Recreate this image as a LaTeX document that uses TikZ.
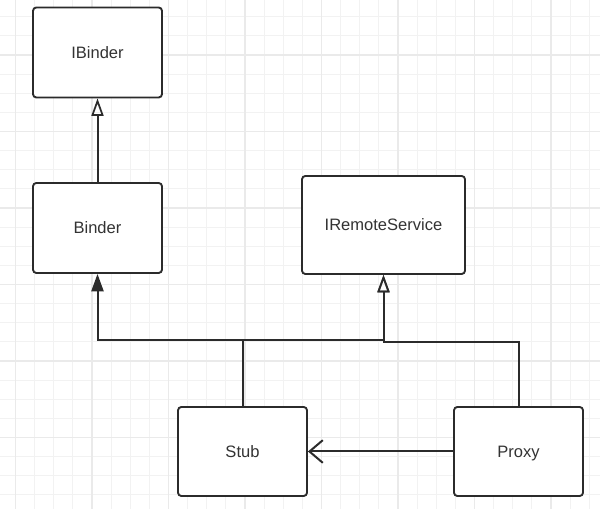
\documentclass[tikz,border=0pt]{standalone}
\usepackage{fontspec}
\setmainfont{Liberation Sans}
\usetikzlibrary{arrows.meta}
\definecolor{minorgrid}{HTML}{F2F2F2}
\definecolor{majorgrid}{HTML}{EAEAEA}
\definecolor{ink}{HTML}{2B2B2B}
\definecolor{txt}{HTML}{333333}
\tikzset{
  box/.style={draw=ink, line width=1.4pt, rounded corners=2.5pt, fill=white,
    minimum width=96.75pt, minimum height=67.5pt, inner sep=0pt,
    text height=8.9pt, text depth=0pt,
    font=\fontsize{12.4pt}{14pt}\selectfont, text=txt},
  conn/.style={draw=ink, line width=1.5pt},
  openhead/.style={-{Triangle[open, length=13pt, width=9pt, line width=1.3pt]}},
  filledhead/.style={-{Triangle[length=13pt, width=9pt]}},
  barbhead/.style={-{Straight Barb[length=10pt, width=17pt, line width=1.5pt]}}
}
\begin{document}
\begin{tikzpicture}[x=0.75pt, y=-0.75pt]
\useasboundingbox (0,0) rectangle (600,509);
\fill[white] (0,0) rectangle (600,509);
% minor grid
\foreach \i in {0,...,31} {
  \draw[minorgrid, line width=0.9pt] ({15.5+19.125*\i},0) -- ({15.5+19.125*\i},509);
}
\foreach \j in {0,...,27} {
  \draw[minorgrid, line width=0.9pt] (0,{-2.375+19.125*\j}) -- (600,{-2.375+19.125*\j});
}
% major grid
\foreach \i in {0,...,7} {
  \draw[majorgrid, line width=0.9pt] ({15.5+76.5*\i},0) -- ({15.5+76.5*\i},509);
}
\foreach \j in {0,...,6} {
  \draw[majorgrid, line width=0.9pt] (0,{-21.5+76.5*\j}) -- (600,{-21.5+76.5*\j});
}
% nodes
\node[box] (ibinder) at (97.5,52.5) {IBinder};
\node[box] (binder) at (97.5,228) {Binder};
\node[box, minimum width=122.25pt, minimum height=73.5pt] (irs) at (383.5,225) {IRemoteService};
\node[box, minimum height=66.75pt] (stub) at (242.5,451.5) {Stub};
\node[box, minimum height=66.75pt] (proxy) at (518.5,451.5) {Proxy};
% junction coordinates
\coordinate (j1) at (242.5,340);
\coordinate (j2) at (518.5,342);
% connectors
\draw[conn, openhead] (binder) -- (ibinder);
\draw[conn, filledhead] (stub.north) -- (stub.north |- j1) -| (binder.south);
\draw[conn, openhead] (stub.north) -- (stub.north |- j1) -| (irs.south);
\draw[conn, openhead] (proxy.north) -- (proxy.north |- j2) -| (irs.south);
\draw[conn, barbhead] (proxy.west) -- (stub.east);
\end{tikzpicture}
\end{document}
